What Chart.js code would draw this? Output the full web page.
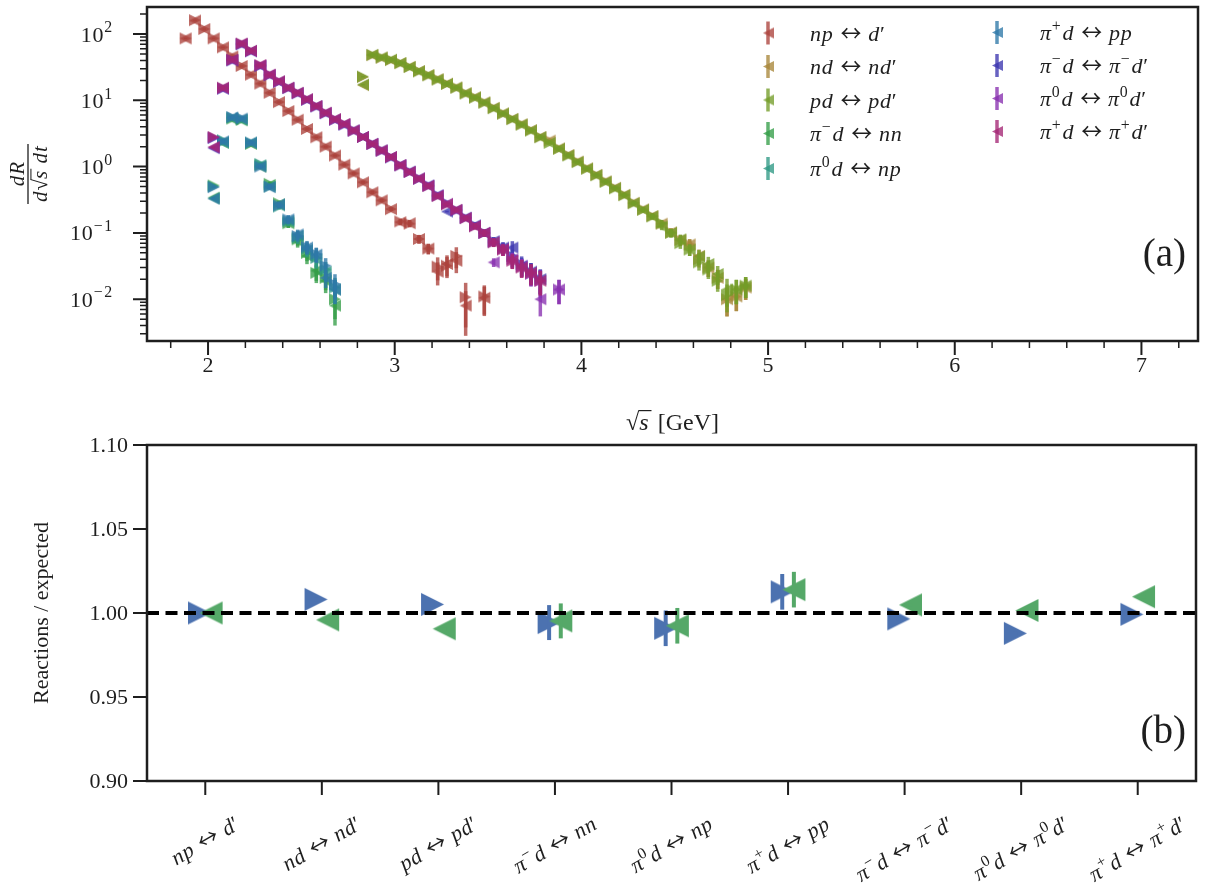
<!DOCTYPE html>
<html><head><meta charset="utf-8">
<script src="https://cdn.jsdelivr.net/npm/chart.js@4.4.1/dist/chart.umd.min.js"></script>
<style>
html,body{margin:0;padding:0;background:#fff;}
#wrap{position:relative;width:1209px;height:894px;overflow:hidden;background:#fff;}
canvas{position:absolute;left:0;}
#top{top:0;} #bot{top:432px;}
</style></head><body>
<div id="wrap"><canvas id="top" width="1209" height="446"></canvas><canvas id="bot" width="1209" height="462"></canvas></div>
<script>
// ---------------- data ----------------
const reactions = ['np ↔ d′','nd ↔ nd′','pd ↔ pd′','π^{−}d ↔ nn','π^{0}d ↔ np','π^{+}d ↔ pp','π^{−}d ↔ π^{−}d′','π^{0}d ↔ π^{0}d′','π^{+}d ↔ π^{+}d′'];

// np <-> d'
const xNp = [1.88,1.93,1.98,2.03,2.08,2.13,2.18,2.23,2.28,2.33,2.38,2.43,2.48,2.53,2.58,2.63,2.68,2.73,2.78,2.83,2.88,2.93,2.98,3.03,3.08,3.13,3.18,3.23,3.28,3.33,3.38,3.48];
const npFwd = [86,162,119,86,63,46,33,24.4,17.9,13.0,9.4,6.9,5.1,3.7,2.77,2.0,1.47,1.07,0.79,0.58,0.41,0.31,0.228,0.149,0.138,0.081,0.058,0.031,0.032,0.045,0.0107,0.011];
const npBwd = [86,160,119,86,63,46,33,24.4,17.9,13.0,9.4,6.9,5.1,3.7,2.77,2.0,1.47,1.07,0.79,0.58,0.41,0.31,0.228,0.145,0.14,0.081,0.058,0.026,0.034,0.038,0.0080,0.0105];
const npErr = [0.02,0.02,0.02,0.02,0.02,0.02,0.02,0.02,0.02,0.02,0.02,0.02,0.02,0.02,0.02,0.03,0.03,0.03,0.04,0.04,0.05,0.05,0.06,0.1,0.12,0.15,0.18,0.38,0.35,0.35,0.65,0.47];

// nd <-> nd' and pd <-> pd'
const xPd = [2.83,2.88,2.93,2.98,3.03,3.08,3.13,3.18,3.23,3.28,3.33,3.38,3.43,3.48,3.53,3.58,3.63,3.68,3.73,3.78,3.83,3.88,3.93,3.98,4.03,4.08,4.13,4.18,4.23,4.28,4.33,4.38,4.43,4.48,4.53,4.58,4.63,4.68,4.73,4.78,4.83,4.88];
const ndFwd = [22.5,48,44,40.5,36.5,32,27.6,24,20.8,17.8,15.6,12.8,11.1,9.3,7.7,6.35,5.25,4.35,3.55,2.8,2.47,1.88,1.5,1.19,0.94,0.75,0.6,0.48,0.375,0.285,0.226,0.18,0.138,0.102,0.078,0.067,0.04,0.03,0.021,0.010,0.011,0.015];
const ndBwd = [17,48,44,40.5,36.5,32,27.6,24,20.8,17.8,15.6,12.8,11.1,9.3,7.7,6.35,5.25,4.35,3.55,2.8,2.47,1.88,1.5,1.19,0.94,0.75,0.6,0.48,0.375,0.285,0.226,0.18,0.138,0.102,0.078,0.067,0.045,0.03,0.021,0.010,0.011,0.015];
const ndErr = [0.02,0.02,0.02,0.02,0.02,0.02,0.02,0.02,0.02,0.02,0.02,0.02,0.02,0.02,0.02,0.02,0.02,0.02,0.02,0.02,0.02,0.02,0.02,0.02,0.02,0.02,0.02,0.02,0.05,0.06,0.08,0.1,0.12,0.15,0.18,0.2,0.25,0.28,0.32,0.45,0.4,0.35];
const pdFwd = [22.8,48.6,44.3,41,36.5,31.8,27.4,23.9,20.6,17.7,15.5,12.7,11,9.2,7.6,6.3,5.2,4.3,3.5,2.77,2.28,1.86,1.47,1.17,0.93,0.74,0.59,0.47,0.37,0.28,0.223,0.177,0.14,0.10,0.07,0.056,0.036,0.028,0.019,0.0115,0.014,0.016];
const pdBwd = [17.3,48.6,44.3,41,36.5,31.8,27.4,23.9,20.6,17.7,15.5,12.7,11,9.2,7.6,6.3,5.2,4.3,3.5,2.77,2.28,1.86,1.47,1.17,0.93,0.74,0.59,0.47,0.37,0.28,0.223,0.177,0.125,0.10,0.08,0.056,0.044,0.034,0.024,0.014,0.014,0.016];
const pdErr = [0.02,0.02,0.02,0.02,0.02,0.02,0.02,0.02,0.02,0.02,0.02,0.02,0.02,0.02,0.02,0.02,0.02,0.02,0.02,0.02,0.02,0.02,0.02,0.02,0.02,0.02,0.02,0.02,0.05,0.06,0.08,0.1,0.12,0.15,0.18,0.2,0.25,0.28,0.32,0.45,0.4,0.35];

// pi d <-> NN
const xPi = [2.03,2.08,2.13,2.18,2.23,2.28,2.33,2.38,2.43,2.48,2.53,2.58,2.63,2.68];
const nnFwd = [0.52,2.4,5.3,5.1,2.2,1.05,0.55,0.28,0.14,0.08,0.05,0.025,0.021,0.010];
const nnBwd = [0.34,2.3,5.2,5.0,2.2,1.0,0.53,0.27,0.14,0.075,0.045,0.027,0.019,0.008];
const nnErr = [0.03,0.03,0.03,0.03,0.04,0.05,0.08,0.1,0.15,0.2,0.25,0.3,0.35,0.5];
const npiFwd = [0.50,2.5,5.5,5.2,2.3,1.1,0.50,0.25,0.15,0.085,0.058,0.042,0.028,0.015];
const npiBwd = [0.33,2.3,5.4,5.1,2.3,1.05,0.50,0.26,0.15,0.09,0.055,0.040,0.026,0.014];
const npiErr = [0.03,0.03,0.03,0.03,0.04,0.05,0.08,0.1,0.15,0.2,0.22,0.28,0.3,0.4];
const ppFwd = [0.49,2.4,5.6,5.4,2.3,1.0,0.50,0.26,0.16,0.09,0.062,0.048,0.032,0.017];
const ppBwd = [0.33,2.4,5.5,5.3,2.3,1.0,0.49,0.27,0.16,0.095,0.06,0.047,0.021,0.014];
const ppErr = [0.03,0.03,0.03,0.03,0.04,0.05,0.08,0.1,0.15,0.18,0.22,0.25,0.3,0.4];

// pi d <-> pi d'
const xEl = [2.03,2.08,2.13,2.18,2.23,2.28,2.33,2.38,2.43,2.48,2.53,2.58,2.63,2.68,2.73,2.78,2.83,2.88,2.93,2.98,3.03,3.08,3.13,3.18,3.23,3.28,3.33,3.38,3.43,3.48,3.53,3.58,3.63,3.68,3.73,3.78];
const elmFwd = [2.7,15,40,70,55,33,24,19,15.3,12.8,10.2,8.1,6.4,5.1,4.3,3.5,2.8,2.2,1.75,1.38,1.05,0.84,0.66,0.52,0.37,0.28,0.22,0.17,0.13,0.10,0.075,0.06,0.045,0.034,0.026,0.020];
const elmBwd = [1.9,15,40,70,55,33,24,19,15.3,12.8,10.2,8.1,6.4,5.1,4.3,3.5,2.8,2.2,1.75,1.38,1.05,0.84,0.66,0.52,0.37,0.21,0.22,0.17,0.13,0.10,0.075,0.06,0.060,0.032,0.026,0.020];
const elmErr = [0.03,0.03,0.03,0.03,0.03,0.03,0.03,0.03,0.03,0.03,0.03,0.03,0.03,0.03,0.03,0.03,0.03,0.03,0.03,0.03,0.03,0.03,0.03,0.03,0.03,0.03,0.06,0.08,0.1,0.12,0.15,0.2,0.25,0.3,0.35,0.4];
const xEl0 = [2.03,2.08,2.13,2.18,2.23,2.28,2.33,2.38,2.43,2.48,2.53,2.58,2.63,2.68,2.73,2.78,2.83,2.88,2.93,2.98,3.03,3.08,3.13,3.18,3.23,3.28,3.33,3.38,3.43,3.48,3.53,3.58,3.63,3.68,3.73,3.78,3.88];
const el0Fwd = [2.75,15.2,40.5,71,55.5,33.5,24.2,19.2,15.4,12.9,10.3,8.15,6.45,5.15,4.35,3.5,2.8,2.2,1.75,1.39,1.05,0.835,0.66,0.515,0.365,0.275,0.22,0.168,0.127,0.10,0.073,0.057,0.040,0.031,0.024,0.019,0.014];
const el0Bwd = [1.95,15.2,40.5,71,55.5,33.5,24.2,19.2,15.4,12.9,10.3,8.15,6.45,5.15,4.35,3.5,2.8,2.2,1.75,1.39,1.05,0.835,0.66,0.515,0.365,0.275,0.22,0.168,0.127,0.10,0.036,0.057,0.040,0.031,0.024,0.010,0.014];
const el0Err = [0.03,0.03,0.03,0.03,0.03,0.03,0.03,0.03,0.03,0.03,0.03,0.03,0.03,0.03,0.03,0.03,0.03,0.03,0.03,0.03,0.03,0.03,0.03,0.03,0.03,0.03,0.06,0.08,0.1,0.12,0.15,0.2,0.25,0.3,0.35,0.45,0.4];
const elpFwd = [2.8,15.5,41,72,56,34,24.4,19.4,15.5,13,10.4,8.2,6.5,5.2,4.4,3.5,2.8,2.2,1.75,1.40,1.05,0.83,0.66,0.51,0.36,0.27,0.223,0.167,0.126,0.10,0.072,0.056,0.038,0.030,0.025,0.019];
const elpBwd = [1.97,15.5,41,72,56,34,24.4,19.4,15.5,13,10.4,8.2,6.5,5.2,4.4,3.5,2.8,2.2,1.75,1.40,1.05,0.83,0.66,0.51,0.36,0.27,0.223,0.167,0.126,0.10,0.072,0.056,0.038,0.030,0.025,0.019];
const elpErr = [0.03,0.03,0.03,0.03,0.03,0.03,0.03,0.03,0.03,0.03,0.03,0.03,0.03,0.03,0.03,0.03,0.03,0.03,0.03,0.03,0.03,0.03,0.03,0.03,0.03,0.03,0.06,0.08,0.1,0.12,0.15,0.2,0.25,0.3,0.35,0.4];

// bottom panel: reactions / expected
const ratioFwd = [1.000,1.0081,1.0051,0.9943,0.9909,1.0126,0.9965,0.9879,0.9992];
const ratioBwd = [1.000,0.9959,0.9906,0.9953,0.9924,1.0139,1.0048,1.0015,1.0097];
const errFwd = [0.001,0.001,0.001,0.0104,0.0106,0.0106,0.001,0.001,0.001];
const errBwd = [0.001,0.001,0.001,0.0104,0.0106,0.0106,0.001,0.001,0.001];
const expectedLevel = 1.0;

// tick labels
const xTicksTop = [2,3,4,5,6,7];
const yDecadesTop = [0.01,0.1,1,10,100];
const yTicksBottom = [0.90,0.95,1.00,1.05,1.10];

// ---------------- styles ----------------
const palette = ['172,66,60','168,134,58','115,156,40','52,158,72','46,152,132','46,120,168','60,54,176','136,48,176','164,38,116'];
const SERIF = '"Liberation Serif","DejaVu Serif",serif';
const ARROWFONT = '"Noto Sans CJK JP","Noto Sans CJK SC","DejaVu Sans",sans-serif';
const INK = '#1e1e1e';
const BLUE = '#4C72B0', GREEN = '#55A868';
const ALPHA = 0.78;

function tri(color, dir, s){
  const pad = 1, c = document.createElement('canvas');
  c.width = s + 2*pad; c.height = s + 2*pad;
  const g = c.getContext('2d'); g.fillStyle = color; g.beginPath();
  if (dir > 0){ g.moveTo(pad,pad); g.lineTo(pad,pad+s); g.lineTo(pad+s,pad+s/2); }
  else { g.moveTo(pad+s,pad); g.lineTo(pad+s,pad+s); g.lineTo(pad,pad+s/2); }
  g.closePath(); g.fill(); return c;
}

// rich text (italic letters, ^{...} superscripts, wide arrow)
function parseRich(str){
  const out=[]; let i=0;
  while(i<str.length){
    if(str[i]==='^' && str[i+1]==='{'){ const j=str.indexOf('}',i); for(const ch of str.slice(i+2,j)) out.push({ch,sup:true}); i=j+1; }
    else { out.push({ch:str[i],sup:false}); i++; }
  }
  return out;
}
function gFont(ch,size){
  if(ch==='↔') return size+'px '+ARROWFONT;
  return (/[A-Za-zπ]/.test(ch)?'italic ':'')+size+'px '+SERIF;
}
function layoutRich(ctx,str,size){
  let w=0;
  ctx.textAlign='left'; ctx.textBaseline='alphabetic';
  const items=parseRich(str).map(it=>{
    const s = it.sup? size*0.72 : size; let adv, sx=1, off=0;
    if(it.ch===' ') adv=size*0.3;
    else {
      ctx.font=gFont(it.ch,s); const m=ctx.measureText(it.ch);
      if(it.ch==='↔'){
        const ink=(m.actualBoundingBoxRight+m.actualBoundingBoxLeft)||m.width;
        sx=size*0.95/ink; adv=size*0.98;
        off = (size*0.98 - ink*sx)/2 + m.actualBoundingBoxLeft*sx;
      }
      else adv=m.width+size*(it.sup?0.08:0.035);
    }
    const r={...it,s,x:w,sx,off}; w+=adv; return r;
  });
  return {items,width:w};
}
function drawRich(ctx,str,x,y,size,align){
  const L=layoutRich(ctx,str,size);
  const x0 = align==='right'? x-L.width : align==='center'? x-L.width/2 : x;
  ctx.textAlign='left'; ctx.textBaseline='alphabetic';
  for(const it of L.items){
    if(it.ch===' ') continue; ctx.font=gFont(it.ch,it.s);
    const yy = it.sup? y-size*0.42 : y;
    if(it.ch==='↔'){ ctx.save(); ctx.translate(x0+it.x+it.off,yy+size*0.02); ctx.scale(it.sx,1); ctx.fillText(it.ch,0,0); ctx.restore(); }
    else ctx.fillText(it.ch,x0+it.x,yy);
  }
  return L.width;
}
// pieces with sqrt overline: [{t,it,sq,ov}]
function drawPieces(ctx,pieces,cx,base,size){
  ctx.textAlign='left'; ctx.textBaseline='alphabetic';
  const widths=pieces.map(p=>{ctx.font=(p.it?'italic ':'')+size+'px '+SERIF; return p.t===' '?size*0.3:ctx.measureText(p.t).width+(p.pad||0);});
  const total=widths.reduce((a,b)=>a+b,0); let x=cx-total/2, sqTop=0, sqEnd=0;
  pieces.forEach((p,i)=>{
    ctx.font=(p.it?'italic ':'')+size+'px '+SERIF;
    if(p.t!==' ') ctx.fillText(p.t,x,base);
    if(p.sq){ sqTop = base - ctx.measureText(p.t).actualBoundingBoxAscent + 0.6; sqEnd = x+ctx.measureText(p.t).width-0.8; }
    if(p.ov){ ctx.lineWidth=Math.max(1,size*0.05); ctx.beginPath(); ctx.moveTo(sqEnd,sqTop); ctx.lineTo(x+widths[i]+1,sqTop); ctx.stroke(); }
    x+=widths[i];
  });
  return total;
}

function decoPlugin(cfg){
  return {
    id:'deco'+cfg.name,
    afterDraw(chart){
      const {ctx, chartArea:a} = chart; const xs=chart.scales.x, ys=chart.scales.y;
      ctx.save(); ctx.strokeStyle=INK; ctx.fillStyle=INK; ctx.lineCap='butt';
      const tick=(vals,len,lw,axis)=>{ ctx.lineWidth=lw; ctx.beginPath(); vals.forEach(v=>{
        if(axis==='x'){ const p=xs.getPixelForValue(v); if(p<a.left-0.5||p>a.right+0.5) return; ctx.moveTo(p,a.bottom); ctx.lineTo(p,a.bottom+len); }
        else { const p=ys.getPixelForValue(v); if(p<a.top-0.5||p>a.bottom+0.5) return; ctx.moveTo(a.left,p); ctx.lineTo(a.left-len,p); } }); ctx.stroke(); };
      tick(cfg.xMajor,14,2,'x'); tick(cfg.xMinor,7,1.5,'x'); tick(cfg.yMajor,14,2,'y'); tick(cfg.yMinor,7,1.5,'y');
      ctx.lineWidth=2.5; ctx.strokeRect(a.left,a.top,a.right-a.left,a.bottom-a.top);
      cfg.text(ctx,chart,xs,ys,a);
      ctx.restore();
    }
  };
}
const errorBars = {
  id:'errorBars',
  afterDatasetDraw(chart,args){
    const ds=chart.data.datasets[args.index]; if(!ds.err) return;
    const ctx=chart.ctx, a=chart.chartArea, ys=chart.scales.y, meta=args.meta;
    ctx.save(); ctx.beginPath(); ctx.rect(a.left,a.top,a.right-a.left,a.bottom-a.top); ctx.clip();
    ctx.strokeStyle=ds.errColor; ctx.lineWidth=ds.errWidth; ctx.lineCap='butt';
    ds.data.forEach((p,i)=>{
      const e=ds.err[i]; if(!e) return;
      const hi = ds.errRel? p.y*(1+e) : p.y+e; const lo = ds.errRel? p.y*(1-e) : p.y-e;
      const px=meta.data[i].x; const y1=ys.getPixelForValue(hi); const y2 = lo>0||!ds.errRel ? ys.getPixelForValue(lo) : a.bottom;
      ctx.beginPath(); ctx.moveTo(px,y1); ctx.lineTo(px,y2); ctx.stroke();
    });
    ctx.restore();
  }
};

// ---------------- top chart ----------------
const topSeries = [
  {x:xNp,fwd:npFwd,bwd:npBwd,err:npErr},
  {x:xPd,fwd:ndFwd,bwd:ndBwd,err:ndErr},
  {x:xPd,fwd:pdFwd,bwd:pdBwd,err:pdErr},
  {x:xPi,fwd:nnFwd,bwd:nnBwd,err:nnErr},
  {x:xPi,fwd:npiFwd,bwd:npiBwd,err:npiErr},
  {x:xPi,fwd:ppFwd,bwd:ppBwd,err:ppErr},
  {x:xEl,fwd:elmFwd,bwd:elmBwd,err:elmErr},
  {x:xEl0,fwd:el0Fwd,bwd:el0Bwd,err:el0Err},
  {x:xEl,fwd:elpFwd,bwd:elpBwd,err:elpErr}
];
const legendTri = [];
const topDatasets = [];
topSeries.forEach((s,k)=>{
  const col='rgba('+palette[k]+','+ALPHA+')';
  legendTri.push(tri(col,-1,11));
  [['fwd',1],['bwd',-1]].forEach(([key,dir],j)=>{
    topDatasets.push({
      label: reactions[k]+(dir>0?' →':' ←'),
      data: s.x.map((v,i)=>({x:v,y:s[key][i]})),
      pointStyle: tri(col,dir,12), pointRadius:6, showLine:false,
      err:s.err, errRel:true, errColor:col, errWidth:3.5,
      order: 100-(2*k+j)
    });
  });
});
const xMinorTop=[]; for(let v=1.8; v<7.25; v+=0.2){ const r=Math.round(v*10)/10; if(Math.abs(r-Math.round(r))>1e-6) xMinorTop.push(r); }
const yMinorTop=[]; for(let e=-3;e<=2;e++) for(let m=2;m<=9;m++) yMinorTop.push(m*Math.pow(10,e));

const topText=(ctx,chart,xs,ys,a)=>{
  ctx.fillStyle=INK; ctx.strokeStyle=INK;
  // y tick labels
  yDecadesTop.forEach(v=>{ const p=ys.getPixelForValue(v); const e=Math.round(Math.log10(v)); drawRich(ctx,'10^{'+(e<0?'−'+(-e):e)+'}',114,p+7.5,22,'right'); });
  // x title
  drawPieces(ctx,[{t:'√',sq:true},{t:'s',it:true,ov:true,pad:2},{t:' '},{t:'[GeV]'}],(a.left+a.right)/2,430,24);
  // y title (fraction)
  ctx.save(); ctx.translate(28,(a.top+a.bottom)/2); ctx.rotate(-Math.PI/2);
  const f=21;
  const wd = drawPieces(ctx,[{t:'d',it:true,pad:1},{t:'√',sq:true},{t:'s',it:true,ov:true,pad:1},{t:' '},{t:'d',it:true,pad:1},{t:'t',it:true}],0,f*0.92,f);
  ctx.lineWidth=1.3; ctx.beginPath(); ctx.moveTo(-wd/2-2,0); ctx.lineTo(wd/2+2,0); ctx.stroke();
  drawPieces(ctx,[{t:'d',it:true,pad:1},{t:'R',it:true}],0,-4.5,f);
  ctx.restore();
  // legend
  const rows1=[33,66.5,100,133.5,168.5], rows2=[32.5,65.5,98.5,131.5];
  reactions.forEach((lab,k)=>{
    const c2=k>=5; const r=c2?k-5:k; const my=c2?rows2[r]:rows1[r];
    const mx=c2?997:768, tx=c2?1040:810;
    ctx.strokeStyle='rgba('+palette[k]+','+ALPHA+')'; ctx.lineWidth=3.5;
    ctx.beginPath(); ctx.moveTo(mx,my-11.5); ctx.lineTo(mx,my+11.5); ctx.stroke();
    const im=legendTri[k]; ctx.drawImage(im,mx-im.width/2+0.5,my-im.height/2);
    ctx.fillStyle=INK; drawRich(ctx,lab,tx,my+7.5,22,'left');
  });
  ctx.font='39px '+SERIF; ctx.textAlign='right'; ctx.textBaseline='middle'; ctx.fillText('(a)',1186,256);
};

new Chart(document.getElementById('top'),{
  type:'scatter',
  data:{datasets:topDatasets},
  options:{
    responsive:false, animation:false, events:[],
    layout:{padding:{left:0,right:11,top:1.5,bottom:0}},
    plugins:{legend:{display:false},tooltip:{enabled:false}},
    scales:{
      x:{type:'linear',min:1.673,max:7.303,grid:{display:false},border:{display:false},
         afterBuildTicks:s=>{s.ticks=xTicksTop.map(v=>({value:v}));},
         afterFit:s=>{s.height=105;},
         ticks:{font:{family:SERIF,size:22},color:INK,padding:4,maxRotation:0,autoSkip:false}},
      y:{type:'logarithmic',min:0.00234,max:256,grid:{display:false},border:{display:false},
         ticks:{display:false},afterFit:s=>{s.width=147;}}
    }
  },
  plugins:[errorBars,decoPlugin({name:'Top',xMajor:xTicksTop,xMinor:xMinorTop,yMajor:yDecadesTop,yMinor:yMinorTop,text:topText})]
});

// ---------------- bottom chart ----------------
const catIdx = reactions.map((_,i)=>i);
const botText=(ctx,chart,xs,ys,a)=>{
  ctx.fillStyle=INK;
  // y tick labels
  ctx.font='22px '+SERIF; ctx.textAlign='right'; ctx.textBaseline='middle';
  yTicksBottom.forEach(v=>{ ctx.fillText(v.toFixed(2),128,ys.getPixelForValue(v)+1); });
  // rotated category labels
  const th=30*Math.PI/180, fs=22;
  reactions.forEach((lab,i)=>{
    const px=xs.getPixelForValue(i); const L=layoutRich(ctx,lab,fs);
    const H=L.width*Math.sin(th)+fs*Math.cos(th);
    const cy=(812-432)+H/2;
    ctx.save(); ctx.translate(px,cy); ctx.rotate(-th); drawRich(ctx,lab,0,fs*0.33,fs,'center'); ctx.restore();
  });
  ctx.font='39px '+SERIF; ctx.textAlign='right'; ctx.textBaseline='middle'; ctx.fillText('(b)',1186,301);
};
new Chart(document.getElementById('bot'),{
  type:'scatter',
  data:{datasets:[
    {label:'forward',data:catIdx.map(i=>({x:i-0.05,y:ratioFwd[i]})),pointStyle:tri(BLUE,1,23),pointRadius:12,
     err:errFwd,errRel:false,errColor:BLUE,errWidth:4,order:2},
    {label:'backward',data:catIdx.map(i=>({x:i+0.05,y:ratioBwd[i]})),pointStyle:tri(GREEN,-1,23),pointRadius:12,
     err:errBwd,errRel:false,errColor:GREEN,errWidth:4,order:1},
    {type:'line',label:'expected',data:[{x:-0.5,y:expectedLevel},{x:8.5,y:expectedLevel}],borderColor:'#000',borderWidth:4,
     borderDash:[12,6.5],pointRadius:0,showLine:true,order:0}
  ]},
  options:{
    responsive:false, animation:false, events:[],
    layout:{padding:{left:0,right:11,top:9,bottom:0}},
    plugins:{legend:{display:false},tooltip:{enabled:false}},
    scales:{
      x:{type:'linear',min:-0.5,max:8.5,grid:{display:false},border:{display:false},ticks:{display:false},afterFit:s=>{s.height=113;}},
      y:{type:'linear',min:0.9,max:1.1,grid:{display:false},border:{display:false},
         afterBuildTicks:s=>{s.ticks=yTicksBottom.map(v=>({value:v}));},
         ticks:{display:false},
         title:{display:true,text:'Reactions / expected',font:{family:SERIF,size:22},color:INK,padding:{top:29,bottom:0}},
         afterFit:s=>{s.width=147;}}
    }
  },
  plugins:[errorBars,decoPlugin({name:'Bot',xMajor:catIdx,xMinor:[],yMajor:yTicksBottom,yMinor:[],text:botText})]
});
</script>
</body></html>
